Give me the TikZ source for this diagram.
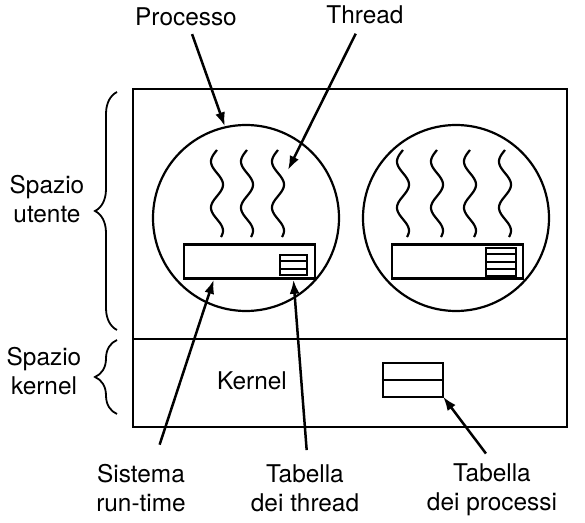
\documentclass[tikz,border=0pt]{standalone}
\usepackage{fontspec}
\setmainfont{TeX Gyre Heros}
\usetikzlibrary{arrows.meta,calc,decorations.pathreplacing}

\begin{document}
\begin{tikzpicture}[x=0.5pt,y=-0.5pt,>={Latex[length=7pt,width=5pt]},
  lbl/.style={font=\fontsize{12.2}{14.5}\selectfont,align=center,inner sep=1pt},
  region/.style={draw,line width=1.4pt,minimum width=217pt,inner sep=0pt},
  proc/.style={draw,circle,line width=1.1pt,minimum size=93pt,inner sep=0pt},
  rtbox/.style={draw,line width=1.3pt,minimum width=65.5pt,minimum height=17pt,inner sep=0pt},
  tabbox/.style={draw,line width=1pt,inner sep=0pt},
  thr/.style={line width=1.1pt},
  ptr/.style={->,line width=1.25pt},
  brc/.style={decorate,decoration={brace,amplitude=11pt},line width=0.9pt}]
  \useasboundingbox (0,0) rectangle (585,523);
  % spazio utente / spazio kernel
  \node[region,minimum height=125pt] (us) at (350,214) {};
  \node[region,minimum height=44pt] (ks) at (350,383) {};
  \draw[brc] (117,330) -- (117,92);
  \draw[brc] (117,414) -- (117,340);
  \node[lbl] (lus) at (47,199) {Spazio\\utente};
  \node[lbl] (lks) at (44,371) {Spazio\\kernel};
  % processi
  \node[proc] (p1) at (246,218) {};
  \node[proc] (p2) at (456,218) {};
  \node[rtbox] (rt1) at (249.5,261.5) {};
  \node[rtbox] (rt2) at (457.5,261.5) {};
  \node[tabbox,minimum width=13.5pt,minimum height=10pt] (tt1) at (293.5,265) {};
  \node[tabbox,minimum width=15pt,minimum height=14pt] (tt2) at (501,262) {};
  \foreach \k in {1,2} {\draw[line width=1pt] ($(tt1.north west)!\k/3!(tt1.south west)$) -- ($(tt1.north east)!\k/3!(tt1.south east)$);}
  \foreach \k in {1,2,3} {\draw[line width=1pt] ($(tt2.north west)!\k/4!(tt2.south west)$) -- ($(tt2.north east)!\k/4!(tt2.south east)$);}
  \foreach \c in {217,247,278,403,437,470,505} {\draw[thr] plot[variable=\t,domain=0:87,samples=60,smooth] ({\c-6*sin(7.8*\t)},{150+\t});}
  % kernel
  \node[lbl] (lkern) at (252,381) {Kernel};
  \node[tabbox,line width=1.3pt,minimum width=30pt,minimum height=17pt] (pt) at (413,380) {};
  \draw[line width=1.3pt] (pt.west) -- (pt.east);
  % etichette
  \node[lbl] (lproc) at (186,17) {Processo};
  \node[lbl] (lthr) at (365,15) {Thread};
  \node[lbl] (lsys) at (141,488) {Sistema\\run-time};
  \node[lbl] (lttab) at (305,488) {Tabella\\dei thread};
  \node[lbl] (lptab) at (492,490) {Tabella\\dei processi};
  \coordinate (thtip) at (288,170);
  \coordinate (rttip) at ([xshift=15.5pt]rt1.south west);
  \draw[ptr,shorten <=3pt] (lproc) -- (p1.103);
  \draw[ptr,shorten <=4pt] (lthr) -- (thtip);
  \draw[ptr,shorten <=9pt] ([xshift=6.5pt]lsys.north) -- (rttip);
  \draw[ptr,shorten <=6pt] ([xshift=1.3pt]lttab.north) -- (tt1.south |- rt1.south);
  \draw[ptr,shorten <=5pt,shorten >=-1pt] (lptab.north) -- (pt.south east);
\end{tikzpicture}
\end{document}
